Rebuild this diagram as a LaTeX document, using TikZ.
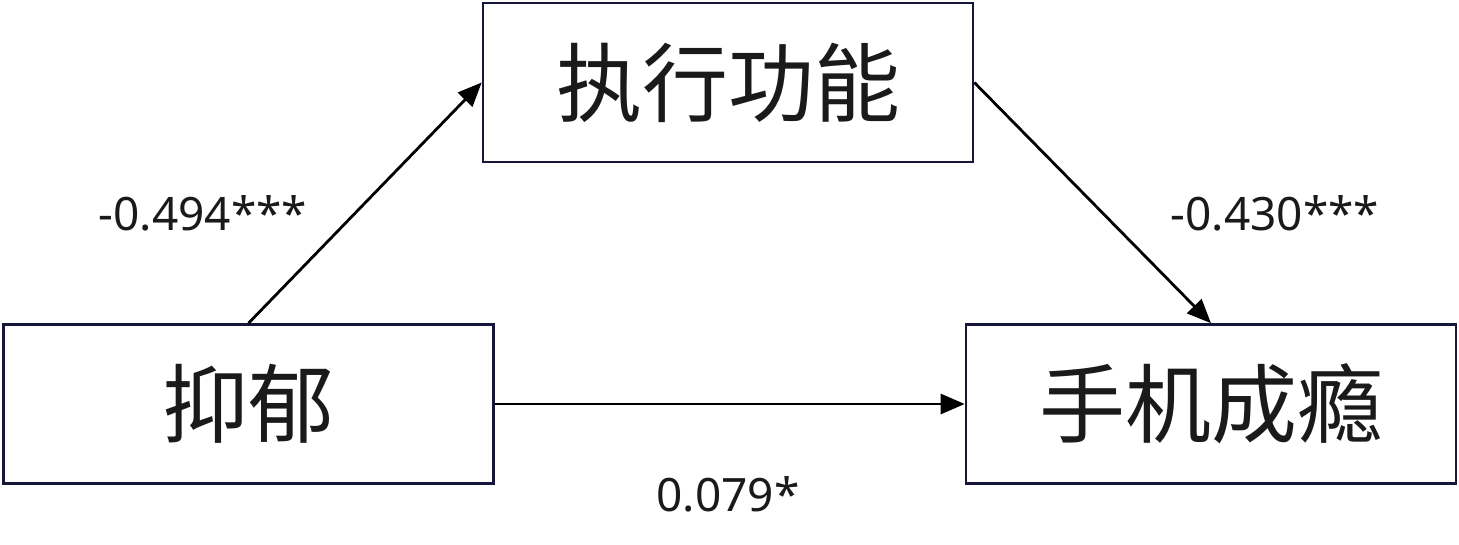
\documentclass[tikz,border=0pt]{standalone}
\usepackage{fontspec}
\setmainfont{Noto Sans}
\newfontfamily\cjk{Noto Sans CJK SC}
\usetikzlibrary{arrows.meta}
\definecolor{boxline}{HTML}{16163A}
\definecolor{ink}{HTML}{1A1A1A}
\tikzset{
  varbox/.style={draw=boxline, line width=2.6pt, minimum width=490pt, minimum height=159pt, inner sep=0pt, text=ink, font=\cjk\fontsize{86}{96}\selectfont},
  pathline/.style={draw=black, line width=2.8pt, -{Triangle[length=24pt,width=20pt]}},
  coef/.style={text=ink, inner sep=0pt, font=\fontsize{46}{52}\selectfont}
}
\begin{document}
\begin{tikzpicture}[x=1pt,y=-1pt]
\useasboundingbox (0,0) rectangle (1459,544);
\node[varbox] (exec) at (728,82.5) {执行功能};
\node[varbox] (dep) at (248.5,404) {抑郁};
\node[varbox] (add) at (1211,404) {手机成瘾};
\draw[pathline] (dep.north) -- (exec.west);
\draw[pathline] (exec.east) -- (add.north);
\draw[pathline] (dep.east) -- (add.west);
\node[coef] (c1) at (203,213) {-0.494***};
\node[coef] (c2) at (1275,213) {-0.430***};
\node[coef] (c3) at (728,494) {0.079*};
\end{tikzpicture}
\end{document}
